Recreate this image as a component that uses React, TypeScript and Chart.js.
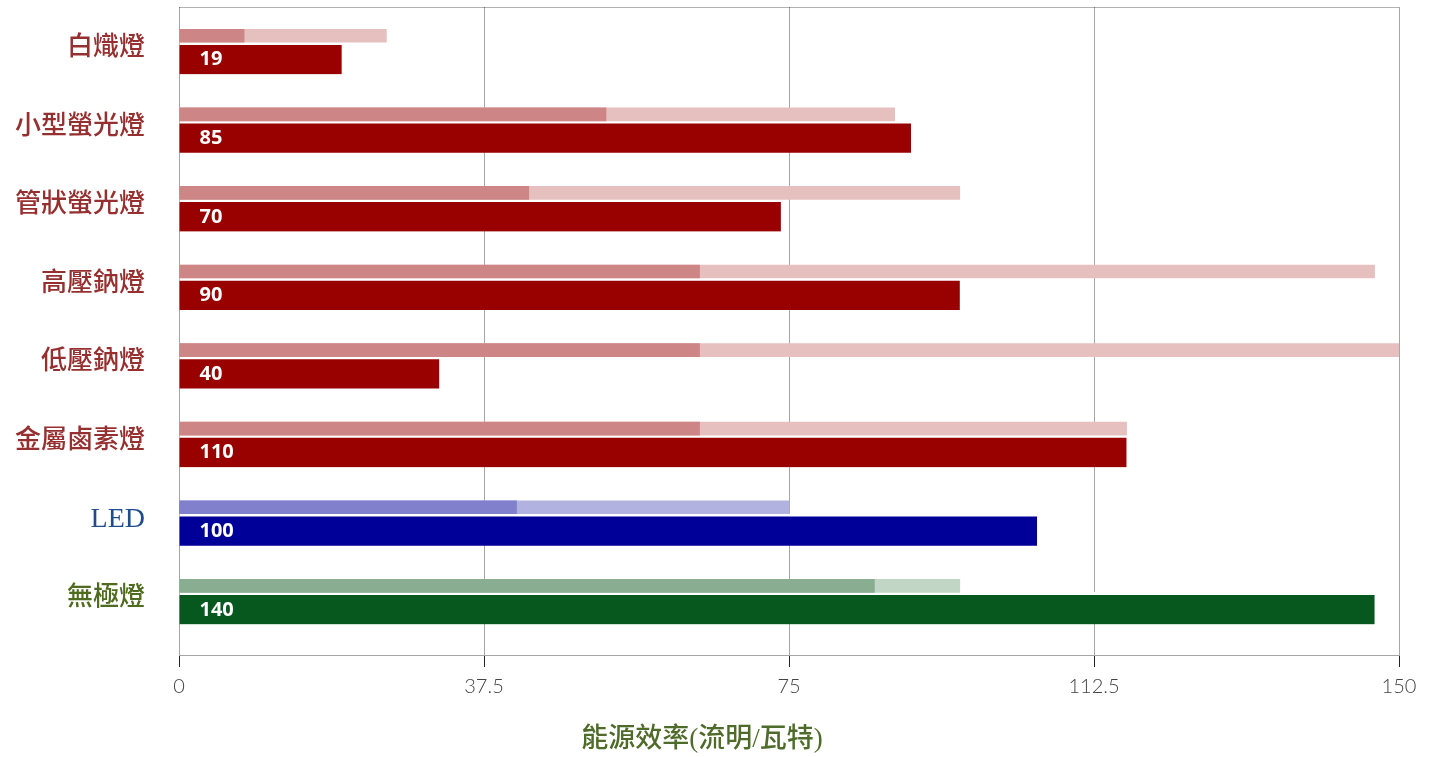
import React, { useEffect, useRef } from 'react';
import { Chart, registerables } from 'chart.js';

Chart.register(...registerables);

// ---- data ----
const CATEGORIES = ['白熾燈', '小型螢光燈', '管狀螢光燈', '高壓鈉燈', '低壓鈉燈', '金屬鹵素燈', 'LED', '無極燈'];
const EFFICACY = [20, 90, 74, 96, 32, 116.5, 105.5, 147];
const VALUE_LABELS = ['19', '85', '70', '90', '40', '110', '100', '140'];
const RANGE_LOW = [8, 52.5, 43, 64, 64, 64, 41.5, 85.5];
const RANGE_HIGH = [25.5, 88, 96, 147, 150, 116.5, 75, 96];
const X_TICKS = [0, 37.5, 75, 112.5, 150];
const AXIS_TITLE = '能源效率(流明/瓦特)';

// ---- styles ----
const MAIN_COLORS = ['#990000', '#990000', '#990000', '#990000', '#990000', '#990000', '#000099', '#07581f'];
const LOW_COLORS = ['#cd8585', '#cd8585', '#cd8585', '#cd8585', '#cd8585', '#cd8585', '#8080cc', '#89ad91'];
const HIGH_COLORS = ['#e6bfbf', '#e6bfbf', '#e6bfbf', '#e6bfbf', '#e6bfbf', '#e6bfbf', '#b2b2e0', '#c2d6c6'];
const LABEL_COLORS = ['#963030', '#963030', '#963030', '#963030', '#963030', '#963030', '#1f4c8c', '#4e6b1f'];

const overlayPlugin = {
  id: 'overlay',
  afterDatasetsDraw(chart: any) {
    const meta = chart.getDatasetMeta(2);
    const ctx = chart.ctx;
    ctx.save();
    ctx.fillStyle = '#ffffff';
    ctx.font = 'bold 20px "Open Sans", Lato, sans-serif';
    ctx.textBaseline = 'middle';
    ctx.textAlign = 'left';
    meta.data.forEach((el: any, i: number) => {
      const p = el.getProps(['base', 'y'], true);
      ctx.fillText(VALUE_LABELS[i], p.base + 20, p.y + 1.5);
    });
    ctx.restore();
  },
  afterDraw(chart: any) {
    const { ctx, chartArea } = chart;
    ctx.save();
    ctx.strokeStyle = 'rgba(0,0,0,0.3)';
    ctx.lineWidth = 1;
    ctx.beginPath();
    ctx.moveTo(chartArea.left, chartArea.top + 0.5);
    ctx.lineTo(chartArea.right, chartArea.top + 0.5);
    ctx.stroke();
    ctx.fillStyle = '#4f6b29';
    ctx.font = '500 27px "Liberation Serif", "Noto Sans CJK TC", serif';
    ctx.textAlign = 'center';
    ctx.textBaseline = 'middle';
    ctx.fillText(AXIS_TITLE, 702, 740);
    ctx.restore();
  },
};

export default function App() {
  const canvasRef = useRef<HTMLCanvasElement | null>(null);

  useEffect(() => {
    if (!canvasRef.current) return;
    const chart = new Chart(canvasRef.current, {
      type: 'bar',
      data: {
        datasets: [
          {
            label: 'low',
            data: RANGE_LOW.map((v, i) => ({ x: v, y: i })),
            backgroundColor: LOW_COLORS,
            stack: 'range',
            barThickness: 13,
          },
          {
            label: 'high',
            data: RANGE_HIGH.map((v, i) => ({ x: v, y: i })),
            backgroundColor: HIGH_COLORS,
            stack: 'range',
            barThickness: 13,
          },
          {
            label: 'efficacy',
            data: EFFICACY.map((v, i) => ({ x: v, y: i })),
            backgroundColor: MAIN_COLORS,
            borderColor: '#ffffff',
            borderWidth: { top: 3, right: 0, bottom: 0, left: 0 },
            borderSkipped: false,
            stack: 'value',
            barThickness: 32,
          },
        ] as any,
      },
      options: {
        indexAxis: 'y',
        animation: false,
        responsive: true,
        maintainAspectRatio: false,
        layout: { padding: { top: 7, right: 36, bottom: 0, left: 0 } },
        plugins: {
          legend: { display: false },
          tooltip: { enabled: false },
        },
        scales: {
          x: {
            type: 'linear',
            min: 0,
            max: 150,
            stacked: false,
            offset: false,
            z: 1,
            afterBuildTicks: (scale: any) => {
              scale.ticks = X_TICKS.map((v) => ({ value: v }));
            },
            afterFit: (scale: any) => {
              scale.height = 102;
              scale.paddingLeft = 0;
              scale.paddingRight = 0;
            },
            grid: {
              color: 'rgba(0,0,0,0.35)',
              lineWidth: 1,
              tickLength: 12,
              tickColor: '#222222',
              drawTicks: true,
              offset: false,
            },
            border: { display: true, color: 'rgba(0,0,0,0.35)' },
            ticks: {
              color: '#444444',
              padding: 8,
              font: { family: 'Lato, "Open Sans", sans-serif', size: 20, weight: '300' as any },
              callback: (v: any) => String(v),
            },
          },
          y: {
            type: 'linear',
            reverse: true,
            min: -0.449,
            max: 7.798,
            stacked: true,
            offset: false,
            afterBuildTicks: (scale: any) => {
              scale.ticks = CATEGORIES.map((_, i) => ({ value: i }));
            },
            afterFit: (scale: any) => {
              scale.width = 179;
              scale.paddingTop = 0;
              scale.paddingBottom = 0;
            },
            grid: { display: false, drawTicks: false, offset: false },
            border: { display: false },
            ticks: {
              padding: 34,
              labelOffset: 6,
              color: (ctx: any) => LABEL_COLORS[ctx.index] || '#963030',
              font: (ctx: any) => ({
                family: '"Liberation Serif", "Noto Sans CJK TC", serif',
                size: CATEGORIES[ctx.index] === 'LED' ? 28 : 26,
                weight: CATEGORIES[ctx.index] === 'LED' ? 'normal' : '500',
              }),
              callback: (v: any) => CATEGORIES[v as number],
            },
          },
        },
      } as any,
      plugins: [overlayPlugin],
    });
    return () => chart.destroy();
  }, []);

  return (
    <div style={{ position: 'fixed', left: 0, top: 0, width: 1435, height: 757, background: '#fff' }}>
      <canvas ref={canvasRef} />
    </div>
  );
}
